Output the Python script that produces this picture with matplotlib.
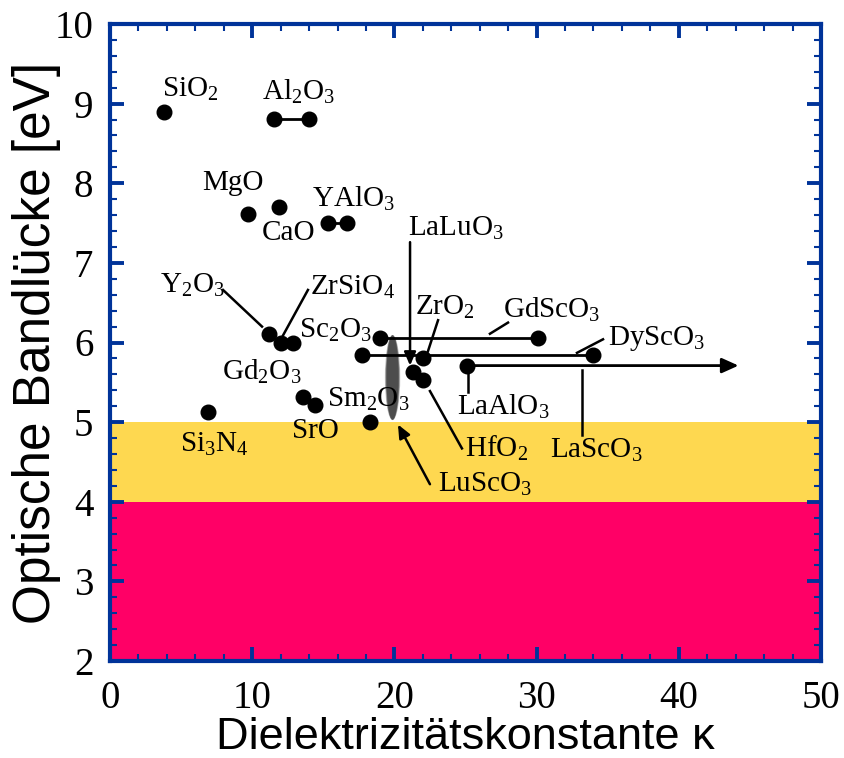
import matplotlib
matplotlib.use("Agg")
import matplotlib.pyplot as plt
from matplotlib.patches import Ellipse
from matplotlib.ticker import MultipleLocator

plt.rcParams['mathtext.fontset'] = 'custom'
plt.rcParams['mathtext.rm'] = 'Liberation Serif'
plt.rcParams['mathtext.it'] = 'Liberation Serif:italic'

# ---------------- data ----------------
materials = ["SiO2", "MgO", "CaO", "Y2O3", "ZrSiO4", "Sc2O3", "ZrO2", "LaLuO3",
             "HfO2", "Gd2O3", "Sm2O3", "SrO", "Si3N4"]
kappa = [3.8, 9.7, 11.9, 11.2, 12.0, 12.9, 22.0, 21.3, 22.0, 13.6, 14.4, 18.3, 6.9]
gap = [8.9, 7.62, 7.7, 6.11, 6.0, 6.0, 5.81, 5.63, 5.53, 5.32, 5.22, 5.0, 5.13]

# materials with a kappa range (both ends marked)
range_names = ["Al2O3", "YAlO3", "GdScO3", "DyScO3"]
range_kmin = [11.5, 15.3, 19.0, 17.7]
range_kmax = [14.0, 16.7, 30.1, 34.0]
range_gap = [8.81, 7.5, 6.06, 5.84]

# open-ended range (arrow)
arrow_names = ["LaAlO3"]
arrow_kmin = [25.1]
arrow_kmax = [44.2]
arrow_gap = [5.71]

# LuScO3 region (ellipse)
lusco_k = 19.87
lusco_gap = 5.56

# bands
band_yellow = (4, 5)
band_red = (2, 4)

# label texts and placements
label_texts = [r"SiO$_2$", r"Al$_2$O$_3$", "MgO", "CaO", r"YAlO$_3$", r"LaLuO$_3$",
               r"Y$_2$O$_3$", r"ZrSiO$_4$", r"Sc$_2$O$_3$", r"ZrO$_2$", r"GdScO$_3$",
               r"DyScO$_3$", r"Gd$_2$O$_3$", r"Sm$_2$O$_3$", "SrO", r"Si$_3$N$_4$",
               r"LaAlO$_3$", r"HfO$_2$", r"LaScO$_3$", r"LuScO$_3$"]
label_x = [3.66, 10.69, 6.47, 10.69, 14.2, 20.96, 3.52, 14.06, 13.29, 21.45, 27.64,
           35.02, 7.88, 15.26, 12.8, 4.92, 24.4, 24.96, 30.94, 23.07]
label_y = [9.09, 9.05, 7.92, 7.29, 7.70, 7.34, 6.62, 6.60, 6.06, 6.35, 6.31,
           5.97, 5.53, 5.19, 4.80, 4.63, 5.09, 4.56, 4.55, 4.12]

# leader lines (x1, y1, x2, y2)
leaders = [
    (7.95, 6.66, 10.69, 6.20),   # Y2O3
    (13.92, 6.66, 12.17, 6.09),  # ZrSiO4
    (23.07, 6.28, 22.36, 5.89),  # ZrO2
    (26.72, 6.11, 27.99, 6.25),  # GdScO3
    (32.84, 5.87, 34.67, 6.04),  # DyScO3
    (25.18, 5.71, 25.18, 5.38),  # LaAlO3
    (33.19, 5.66, 33.19, 4.84),  # LaScO3
    (22.5, 5.39, 24.75, 4.67),   # HfO2
]
# arrows (tail x, tail y, tip x, tip y)
arrows = [
    (21.1, 7.26, 21.1, 5.71),    # LaLuO3
    (22.5, 4.22, 20.25, 4.97),   # LuScO3
]

# ---------------- plot ----------------
blue = "#003399"
fig = plt.figure(figsize=(8.44, 7.58), dpi=100)
ax = fig.add_axes([110/844, 97/758, 711/844, 637/758])
ax.set_xlim(0, 50)
ax.set_ylim(2, 10)

ax.axhspan(*band_yellow, color="#FED850", lw=0, zorder=0)
ax.axhspan(*band_red, color="#FF0066", lw=0, zorder=0)

# soft grey ellipse
for s, a in [(1.0, 0.35), (0.9, 0.6), (0.8, 1.0)]:
    ax.add_patch(Ellipse((lusco_k, lusco_gap), 1.08 * s, 1.07 - 0.06 * (1 - s),
                         facecolor="#4d4d4d", edgecolor="none", alpha=a, zorder=1))

lw = 2.0
for k0, k1, g in zip(range_kmin, range_kmax, range_gap):
    ax.plot([k0, k1], [g, g], color="black", lw=lw, zorder=3)
    ax.plot([k0, k1], [g, g], "o", color="black", ms=10.5, zorder=4)

for k0, k1, g in zip(arrow_kmin, arrow_kmax, arrow_gap):
    ax.annotate("", xy=(k1, g), xytext=(k0, g),
                arrowprops=dict(arrowstyle="-|>,head_length=1.0,head_width=0.45",
                                color="black", lw=lw, shrinkA=0, shrinkB=0), zorder=3)
    ax.plot([k0], [g], "o", color="black", ms=10.5, zorder=4)

ax.plot(kappa, gap, "o", color="black", ms=10.5, zorder=4, linestyle="none")

for x1, y1, x2, y2 in leaders:
    ax.plot([x1, x2], [y1, y2], color="black", lw=1.8, zorder=3)

for x1, y1, x2, y2 in arrows:
    ax.annotate("", xy=(x2, y2), xytext=(x1, y1),
                arrowprops=dict(arrowstyle="-|>,head_length=0.8,head_width=0.35",
                                color="black", lw=1.8, shrinkA=0, shrinkB=0), zorder=3)

for t, x, y in zip(label_texts, label_x, label_y):
    ax.text(x, y, t, fontsize=21, family="Liberation Serif", ha="left",
            va="baseline", zorder=5)

# axes styling
for sp in ax.spines.values():
    sp.set_color(blue)
    sp.set_linewidth(3.0)
    sp.set_zorder(6)
ax.xaxis.set_major_locator(MultipleLocator(10))
ax.xaxis.set_minor_locator(MultipleLocator(2))
ax.yaxis.set_major_locator(MultipleLocator(1))
ax.yaxis.set_minor_locator(MultipleLocator(0.2))
ax.tick_params(which="both", direction="in", top=True, right=True, color=blue)
ax.tick_params(which="major", length=10, width=2.8)
ax.tick_params(which="minor", length=5, width=1.5)
ax.tick_params(axis="x", which="major", pad=14)
ax.tick_params(axis="y", which="major", pad=12)
for lab in ax.get_xticklabels() + ax.get_yticklabels():
    lab.set_family("Liberation Serif")
    lab.set_fontsize(28)

ax.set_xlabel("Dielektrizitätskonstante κ", family="Liberation Sans", fontsize=32.5,
              labelpad=0)
ax.set_ylabel("Optische Bandlücke [eV]", family="Liberation Sans", fontsize=37,
              labelpad=-5)

fig.savefig("out.png", dpi=100)
